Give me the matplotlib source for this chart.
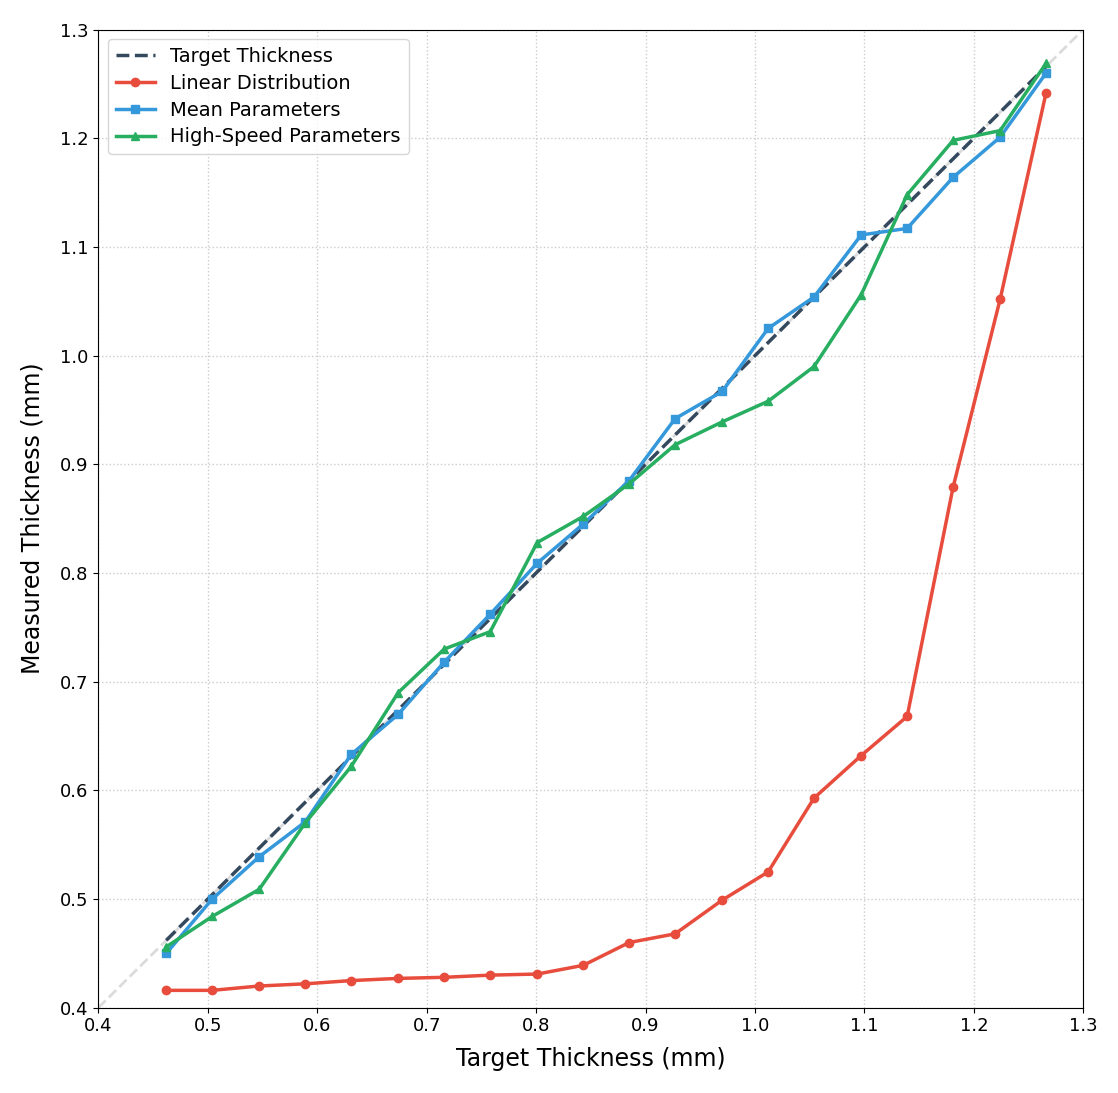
import matplotlib
matplotlib.use("Agg")
import matplotlib.pyplot as plt
import numpy as np

# target thickness values (mm)
target = [0.462, 0.504, 0.547, 0.589, 0.631, 0.674, 0.716, 0.758, 0.801, 0.843,
          0.885, 0.927, 0.970, 1.012, 1.054, 1.097, 1.139, 1.181, 1.224, 1.266]

linear = [0.416, 0.416, 0.420, 0.422, 0.425, 0.427, 0.428, 0.430, 0.431, 0.439,
          0.460, 0.468, 0.499, 0.525, 0.593, 0.632, 0.668, 0.879, 1.052, 1.242]

mean_params = [0.450, 0.500, 0.539, 0.571, 0.633, 0.670, 0.718, 0.762, 0.809, 0.845,
               0.885, 0.942, 0.967, 1.025, 1.054, 1.111, 1.117, 1.164, 1.201, 1.260]

high_speed = [0.456, 0.484, 0.509, 0.570, 0.622, 0.690, 0.730, 0.746, 0.828, 0.852,
              0.882, 0.918, 0.939, 0.958, 0.990, 1.056, 1.148, 1.198, 1.207, 1.269]

ticks = np.round(np.arange(0.4, 1.31, 0.1), 1)

fig, ax = plt.subplots(figsize=(11.18, 10.93), dpi=100)
fig.subplots_adjust(left=0.088, right=0.969, top=0.973, bottom=0.078)

# y = x reference
ax.plot([0.4, 1.3], [0.4, 1.3], "--", color="lightgray", lw=2, alpha=0.8, zorder=1)

ax.plot(target, target, "--", color="#34495e", lw=2.5, label="Target Thickness", zorder=3)
ax.plot(target, linear, "-o", color="#e74c3c", lw=2.5, ms=6, label="Linear Distribution", zorder=3)
ax.plot(target, mean_params, "-s", color="#3498db", lw=2.5, ms=6, label="Mean Parameters", zorder=3)
ax.plot(target, high_speed, "-^", color="#27ae60", lw=2.5, ms=6, label="High-Speed Parameters", zorder=3)

ax.set_xlim(0.4, 1.3)
ax.set_ylim(0.4, 1.3)
ax.set_xticks(ticks)
ax.set_yticks(ticks)
ax.tick_params(labelsize=13)
ax.set_xlabel("Target Thickness (mm)", fontsize=17, labelpad=8)
ax.set_ylabel("Measured Thickness (mm)", fontsize=17, labelpad=11)
ax.grid(True, linestyle=":", color="#cccccc", lw=1)
ax.set_axisbelow(True)

ax.legend(loc="upper left", fontsize=14, labelspacing=0.4)

fig.savefig("out.png", dpi=100)
